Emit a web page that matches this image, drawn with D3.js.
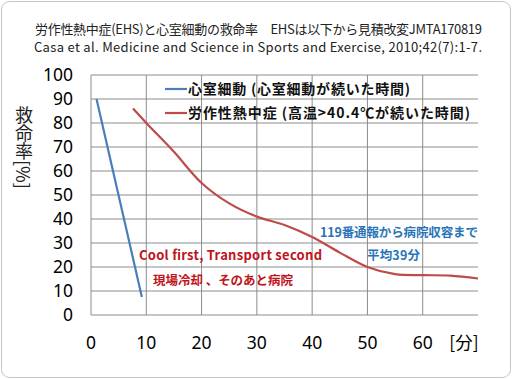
<!DOCTYPE html>
<html>
<head>
<meta charset="utf-8">
<script src="https://cdn.jsdelivr.net/npm/d3@7"></script>
<style>
  body { margin: 0; background: #fff; }
  text { font-family: "Noto Sans CJK JP", "Noto Sans", sans-serif; }
</style>
</head>
<body>
<div id="chart"></div>
<script>
// data
var vfData = [[1, 90], [9.2, 7.5]];
var ehsData = [[7.6, 86], [10, 80], [15, 68], [20, 55], [25, 46.5], [30, 41], [35, 37.5],
  [40, 32.5], [45, 26], [50, 20], [55, 17], [60, 16.6], [65, 16.4], [70, 15.2]];
var xTicks = [0, 10, 20, 30, 40, 50, 60];
var yTicks = [0, 10, 20, 30, 40, 50, 60, 70, 80, 90, 100];
var seriesNames = ["心室細動 (心室細動が続いた時間)", "労作性熱中症 (高温>40.4℃が続いた時間)"];
var seriesColors = ["#4a7ebb", "#be4b48"];

var W = 512, H = 379;
var margin = { left: 91, right: 34, top: 75, bottom: 64 };

var svg = d3.select("#chart").append("svg")
  .attr("width", W).attr("height", H);

// outer frame
svg.append("rect")
  .attr("x", 1.5).attr("y", 1.5).attr("width", W - 3).attr("height", H - 3)
  .attr("rx", 8).attr("fill", "#fff").attr("stroke", "#c4c4c4");

// titles
svg.append("text").attr("x", 35).attr("y", 34)
  .style("font-size", "13px").attr("fill", "#222")
  .attr("textLength", 447).attr("lengthAdjust", "spacing")
  .text("労作性熱中症(EHS)と心室細動の救命率　EHSは以下から見積改変JMTA170819");
svg.append("text").attr("x", 34).attr("y", 52)
  .style("font-size", "13px").attr("fill", "#222")
  .attr("textLength", 448).attr("lengthAdjust", "spacing")
  .text("Casa et al. Medicine and Science in Sports and Exercise, 2010;42(7):1-7.");

var x = d3.scaleLinear().domain([0, 70]).range([margin.left, W - margin.right]);
var y = d3.scaleLinear().domain([0, 100]).range([H - margin.bottom, margin.top]);

// grid
svg.append("g").selectAll("line").data(yTicks).join("line")
  .attr("x1", x(0)).attr("x2", x(70))
  .attr("y1", d => y(d)).attr("y2", d => y(d))
  .attr("stroke", "#8c8c8c").attr("stroke-width", 1);
svg.append("g").selectAll("line").data(xTicks).join("line")
  .attr("x1", d => x(d)).attr("x2", d => x(d))
  .attr("y1", y(0)).attr("y2", y(100))
  .attr("stroke", "#8c8c8c").attr("stroke-width", 1);

// tick labels
svg.append("g").selectAll("text").data(yTicks).join("text")
  .attr("x", x(0) - 18).attr("y", d => y(d))
  .attr("text-anchor", "end").attr("dy", "0.36em")
  .style("font-size", "17.5px").style("font-family", "Noto Sans, sans-serif")
  .text(d => d);
svg.append("g").selectAll("text").data(xTicks).join("text")
  .attr("x", d => x(d)).attr("y", 349)
  .attr("text-anchor", "middle")
  .style("font-size", "17.5px").style("font-family", "Noto Sans, sans-serif")
  .text(d => d);
svg.append("text").attr("x", 464).attr("y", 349)
  .attr("text-anchor", "middle").style("font-size", "17.5px")
  .text("[分]");

// y title, vertical writing
svg.append("text").attr("x", 24).attr("y", 106)
  .style("writing-mode", "vertical-rl")
  .style("font-size", "18px").attr("fill", "#222")
  .text("救命率[%]");

// lines
var line = d3.line().x(d => x(d[0])).y(d => y(d[1]));
svg.append("path").datum(vfData)
  .attr("d", line).attr("fill", "none")
  .attr("stroke", seriesColors[0]).attr("stroke-width", 2.2);
svg.append("path").datum(ehsData)
  .attr("d", line.curve(d3.curveCatmullRom)).attr("fill", "none")
  .attr("stroke", seriesColors[1]).attr("stroke-width", 2.2);

// legend
var legendWidths = [222, 282];
seriesNames.forEach(function (name, i) {
  var ly = 89 + i * 24;
  svg.append("line").attr("x1", 165).attr("x2", 187)
    .attr("y1", ly).attr("y2", ly)
    .attr("stroke", seriesColors[i]).attr("stroke-width", 2.2);
  svg.append("text").attr("x", 188).attr("y", ly).attr("dy", "0.36em")
    .style("font-size", "14px").style("font-weight", "bold").attr("fill", "#111")
    .attr("textLength", legendWidths[i]).attr("lengthAdjust", "spacing")
    .text(name);
});

// annotations
svg.append("text").attr("x", 139).attr("y", 255).attr("dy", "0.36em")
  .style("font-size", "13px").style("font-weight", "bold").attr("fill", "#c0141c")
  .attr("textLength", 183).attr("lengthAdjust", "spacing")
  .text("Cool first, Transport second");
svg.append("text").attr("x", 153).attr("y", 280).attr("dy", "0.36em")
  .style("font-size", "12.5px").style("font-weight", "bold").attr("fill", "#c0141c")
  .attr("textLength", 140).attr("lengthAdjust", "spacing")
  .text("現場冷却 、そのあと病院");
svg.append("text").attr("x", 320).attr("y", 232).attr("dy", "0.36em")
  .style("font-size", "12.5px").style("font-weight", "bold").attr("fill", "#2a74b8")
  .attr("textLength", 158).attr("lengthAdjust", "spacing")
  .text("119番通報から病院収容まで");
svg.append("text").attr("x", 367).attr("y", 255).attr("dy", "0.36em")
  .style("font-size", "12.5px").style("font-weight", "bold").attr("fill", "#2a74b8")
  .attr("textLength", 53).attr("lengthAdjust", "spacing")
  .text("平均39分");
</script>
</body>
</html>
